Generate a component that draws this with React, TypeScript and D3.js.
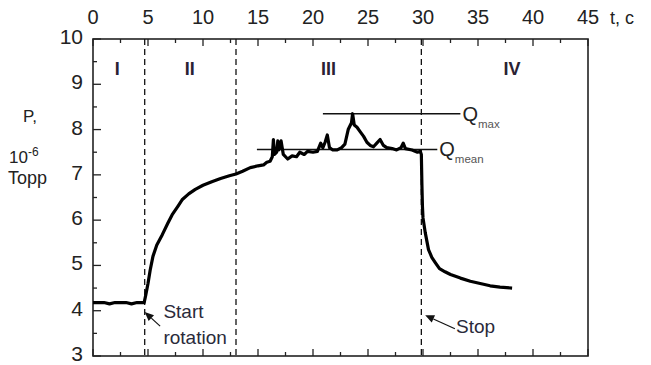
import React, { useEffect, useRef } from 'react';
import { select, scaleLinear, line } from 'd3';

// pressure trace (t in c, P in 10^-6 Topp)
const time = [
	0, 1, 1.5, 2, 3, 3.5, 4, 4.65, 4.8, 5.0, 5.2, 5.45, 5.8, 6.3, 6.8, 7.2, 7.7, 8.1, 8.7, 9.3, 10, 10.8,
	11.6, 12.4, 13, 13.6, 14.3, 15, 15.5, 15.8, 16.1, 16.3, 16.4, 16.5, 16.7, 16.8, 16.9, 17.1, 17.3, 17.7,
	18.1, 18.5, 18.8, 19.2, 19.5, 20, 20.4, 20.7, 20.9, 21.1, 21.3, 21.5, 21.8, 22.2, 22.6, 22.9, 23.2,
	23.5, 23.6, 23.75, 24, 24.3, 24.6, 24.9, 25.2, 25.5, 25.8, 26.1, 26.4, 26.7, 27.2, 27.6, 28, 28.2,
	28.4, 29, 29.5, 29.75, 29.85, 29.9, 29.95, 30.0, 30.2, 30.5, 30.8, 31.1, 31.5, 32.0, 32.5, 33.4, 34.3,
	35.2, 36.1, 37, 38.1,
];
const pressure = [
	4.18, 4.18, 4.15, 4.18, 4.18, 4.15, 4.18, 4.18, 4.35, 4.6, 4.9, 5.2, 5.45, 5.68, 5.93, 6.12, 6.3, 6.45,
	6.58, 6.68, 6.77, 6.85, 6.92, 6.98, 7.02, 7.08, 7.16, 7.2, 7.22, 7.28, 7.3, 7.4, 7.78, 7.45, 7.5, 7.75,
	7.55, 7.75, 7.45, 7.35, 7.42, 7.4, 7.5, 7.45, 7.52, 7.5, 7.52, 7.7, 7.6, 7.72, 7.88, 7.6, 7.55, 7.55,
	7.6, 7.68, 8.0, 8.15, 8.35, 8.1, 8.05, 7.95, 7.85, 7.72, 7.65, 7.62, 7.7, 7.78, 7.65, 7.6, 7.58, 7.55,
	7.6, 7.7, 7.58, 7.55, 7.5, 7.52, 7.45, 6.8, 6.3, 6.05, 5.73, 5.35, 5.18, 5.07, 4.93, 4.86, 4.8, 4.72,
	4.65, 4.6, 4.55, 4.52, 4.5,
];

const xTickValues = [0, 5, 10, 15, 20, 25, 30, 35, 40, 45];
const yTickValues = [3, 4, 5, 6, 7, 8, 9, 10];

const stageBounds = [4.7, 13, 29.85];
const stageLabels = ['I', 'II', 'III', 'IV'];
const stageCenters = [2.2, 8.8, 21.4, 38.1];

const qMax = 8.35;
const qMaxSpan = [20.9, 33.4];
const qMean = 7.56;
const qMeanSpan = [14.9, 31.3];

const FONT = 'Liberation Sans, Arial, sans-serif';
const INK = '#222';

const App = () => {
	const container = useRef<SVGSVGElement>(null);

	useEffect(() => {
		const width = 651;
		const height = 365;
		const margins = { l: 93, r: 63, t: 39, b: 9 };

		const svg = select(container.current);
		svg.selectAll('*').remove();

		const x = scaleLinear().domain([0, 45]).range([margins.l, width - margins.r]);
		const y = scaleLinear().domain([3, 10]).range([height - margins.b, margins.t]);

		const x0 = x(0), x1 = x(45), y0 = y(3), y1 = y(10);

		// minor ticks sit halfway between the majors
		const xMinor = xTickValues.slice(1).map((v, i) => (v + xTickValues[i]) / 2);
		const yMinor = yTickValues.slice(1).map((v, i) => (v + yTickValues[i]) / 2);

		const ticks = svg.append('g').attr('stroke', INK).attr('stroke-width', 1.3);
		// top + bottom
		xTickValues.concat(xMinor).forEach(v => {
			const len = xTickValues.includes(v) ? 7 : 4;
			ticks.append('line').attr('x1', x(v)).attr('x2', x(v)).attr('y1', y1).attr('y2', y1 + len);
			ticks.append('line').attr('x1', x(v)).attr('x2', x(v)).attr('y1', y0).attr('y2', y0 - len);
		});
		// left
		yTickValues.concat(yMinor).forEach(v => {
			const len = yTickValues.includes(v) ? 8 : 4;
			ticks.append('line').attr('x1', x0).attr('x2', x0 + len).attr('y1', y(v)).attr('y2', y(v));
		});

		// frame
		svg.append('rect')
			.attr('x', x0)
			.attr('y', y1)
			.attr('width', x1 - x0)
			.attr('height', y0 - y1)
			.attr('fill', 'none')
			.attr('stroke', INK)
			.attr('stroke-width', 1.6);

		// tick labels
		svg.selectAll('.xlab')
			.data(xTickValues)
			.join('text')
			.attr('class', 'xlab')
			.attr('x', d => x(d))
			.attr('y', 24)
			.attr('text-anchor', 'middle')
			.attr('font-family', FONT)
			.attr('font-size', 20)
			.attr('fill', INK)
			.text(d => d);

		svg.selectAll('.ylab')
			.data(yTickValues)
			.join('text')
			.attr('class', 'ylab')
			.attr('x', x0 - 10)
			.attr('y', d => y(d) + 5)
			.attr('text-anchor', 'end')
			.attr('font-family', FONT)
			.attr('font-size', 21)
			.attr('fill', INK)
			.text(d => d);

		svg.append('text')
			.attr('x', 610)
			.attr('y', 24)
			.attr('font-family', FONT)
			.attr('font-size', 18)
			.attr('fill', INK)
			.text('t, c');

		// y title
		const yt = svg.append('g').attr('font-family', FONT).attr('fill', INK);
		yt.append('text').attr('x', 23).attr('y', 122).attr('font-size', 17).text('P,');
		const pow = yt.append('text').attr('x', 9).attr('y', 163).attr('font-size', 17);
		pow.append('tspan').text('10');
		pow.append('tspan').attr('dy', -7).attr('font-size', 12).text('-6');
		yt.append('text').attr('x', 8).attr('y', 184).attr('font-size', 18).text('Topp');

		// stage boundaries
		svg.selectAll('.stage')
			.data(stageBounds)
			.join('line')
			.attr('class', 'stage')
			.attr('x1', d => x(d))
			.attr('x2', d => x(d))
			.attr('y1', y1)
			.attr('y2', y0)
			.attr('stroke', '#111')
			.attr('stroke-width', 1.3)
			.attr('stroke-dasharray', '6,4');

		svg.selectAll('.stagelab')
			.data(stageLabels)
			.join('text')
			.attr('class', 'stagelab')
			.attr('x', (d, i) => x(stageCenters[i]))
			.attr('y', 75)
			.attr('text-anchor', 'middle')
			.attr('font-family', FONT)
			.attr('font-weight', 'bold')
			.attr('font-size', 18)
			.attr('fill', '#2a2233')
			.text(d => d);

		// Qmax / Qmean levels
		const qg = svg.append('g').attr('stroke', '#111').attr('stroke-width', 1.5);
		qg.append('line').attr('x1', x(qMaxSpan[0])).attr('x2', x(qMaxSpan[1])).attr('y1', y(qMax)).attr('y2', y(qMax));
		qg.append('line').attr('x1', x(qMeanSpan[0])).attr('x2', x(qMeanSpan[1])).attr('y1', y(qMean)).attr('y2', y(qMean));

		const qlab = (v: number, t: number, sub: string) => {
			const txt = svg.append('text')
				.attr('x', x(t) + 2)
				.attr('y', y(v) + 7)
				.attr('font-family', FONT)
				.attr('fill', INK)
				.attr('font-size', 20);
			txt.append('tspan').text('Q');
			txt.append('tspan').attr('dy', 7).attr('font-size', 11.5).attr('fill', '#555').text(sub);
		};
		qlab(qMax, qMaxSpan[1], 'max');
		qlab(qMean, qMeanSpan[1], 'mean');

		// pressure trace
		const pts: [number, number][] = time.map((t, i) => [t, pressure[i]]);
		svg.append('path')
			.attr('d', line<[number, number]>().x(d => x(d[0])).y(d => y(d[1]))(pts))
			.attr('fill', 'none')
			.attr('stroke', '#000')
			.attr('stroke-width', 3.2)
			.attr('stroke-linejoin', 'round');

		// annotations with arrows
		const arrow = (from: [number, number], to: [number, number]) => {
			const fx = x(from[0]), fy = y(from[1]), tx = x(to[0]), ty = y(to[1]);
			const ang = Math.atan2(ty - fy, tx - fx);
			const hl = 9, hw = 4;
			const bx = tx - hl * Math.cos(ang), by = ty - hl * Math.sin(ang);
			svg.append('line')
				.attr('x1', fx).attr('y1', fy).attr('x2', bx).attr('y2', by)
				.attr('stroke', '#111').attr('stroke-width', 1.2);
			svg.append('path')
				.attr('d', `M${tx},${ty}L${bx + hw * Math.sin(ang)},${by - hw * Math.cos(ang)}L${bx - hw * Math.sin(ang)},${by + hw * Math.cos(ang)}Z`)
				.attr('fill', '#111');
		};
		arrow([6.1, 3.66], [4.7, 3.97]);
		arrow([32.9, 3.6], [30.2, 3.9]);

		const note = svg.append('g').attr('font-family', FONT).attr('font-size', 19).attr('fill', '#2a2a3a');
		note.append('text').attr('x', x(6.4)).attr('y', y(3.83)).text('Start');
		note.append('text').attr('x', x(6.4)).attr('y', y(3.27)).text('rotation');
		note.append('text').attr('x', x(33)).attr('y', y(3.5)).text('Stop');
	});

	return (
		<svg
			ref={container}
			width={651}
			height={365}
			style={{ position: 'absolute', left: 0, top: 0, background: '#fff' }}
		/>
	);
};

export default App;
